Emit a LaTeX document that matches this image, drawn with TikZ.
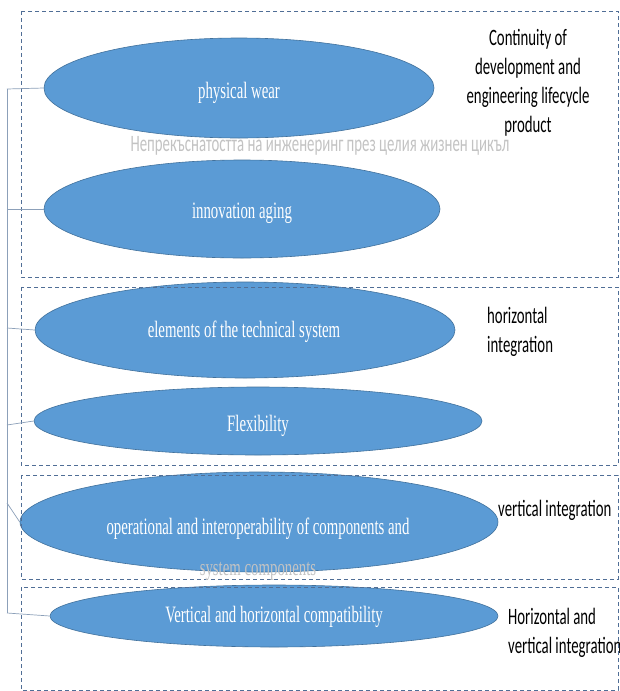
\documentclass[tikz,border=0pt]{standalone}
\usepackage{fontspec}
\setmainfont{Liberation Serif}
\newfontfamily\serifn[FakeStretch=0.63]{Liberation Serif}
\newfontfamily\lblf[FakeStretch=0.63]{Carlito}
\usetikzlibrary{shapes.geometric}
\definecolor{ellfill}{RGB}{91,155,213}
\definecolor{elldraw}{RGB}{65,113,156}
\definecolor{boxc}{RGB}{80,110,150}
\definecolor{conn}{RGB}{140,160,185}
\definecolor{ghost}{RGB}{195,195,195}
\begin{document}
\begin{tikzpicture}[x=1pt,y=-1pt,
  ell/.style={ellipse, fill=ellfill, draw=elldraw, line width=0.6pt, inner sep=0pt},
  etext/.style={text=white, inner sep=0pt, font=\serifn\fontsize{23.5}{27}\selectfont},
  ghosttext/.style={text=ghost, inner sep=0pt},
  lbl/.style={text=black, inner sep=0pt, font=\lblf\fontsize{23.5}{29}\selectfont},
  grp/.style={draw=boxc, dash pattern=on 4pt off 3pt, line width=0.6pt},
  link/.style={draw=conn, line width=0.7pt}]
\useasboundingbox (0,0) rectangle (620,691);
\fill[white] (0,0) rectangle (620,691);

% ellipses
\node[ell, minimum width=390pt, minimum height=100pt] (e1) at (239,88) {};
\node[ell, minimum width=396pt, minimum height=98pt] (e2) at (242,209) {};
\node[ell, minimum width=420pt, minimum height=96pt] (e3) at (245,330) {};
\node[ell, minimum width=448pt, minimum height=68pt] (e4) at (258,421) {};
\node[ell, minimum width=478pt, minimum height=100pt] (e5) at (259,522) {};
\node[ell, minimum width=448pt, minimum height=62pt] (e6) at (274,616) {};

% group boxes
\draw[grp] (21,11) rectangle (618,277);
\draw[grp] (21,287) rectangle (618,465);
\draw[grp] (21,475) rectangle (618,579);
\draw[grp] (21,587) rectangle (618,690);

% ellipse texts
\node[etext] (t1) at (239,93) {physical wear};
\node[etext] (t2) at (242,213) {innovation aging};
\node[etext] (t3) at (244,332) {elements of the technical system};
\node[etext] (t4) at (258,426) {Flexibility};
\node[etext] (t5) at (258,529) {operational and interoperability of components and};
\node[etext, ghosttext] (t5b) at (258,571) {system components};
\node[etext] (t6) at (274,617) {Vertical and horizontal compatibility};

% ghost caption
\node[lbl, ghosttext] (cap) at (320,146) {Непрекъснатостта на инженеринг през целия жизнен цикъл};

% right labels
\node[lbl, align=center] (l1) at (528,83) {Continuity of\\development and\\engineering lifecycle\\product};
\node[lbl, align=left, anchor=west] (l2) at (487,332) {horizontal\\integration};
\node[lbl, anchor=west] (l3) at (498,510) {vertical integration};
\node[lbl, align=left, anchor=west] (l4) at (508,633) {Horizontal and\\vertical integration};

% connectors
\coordinate (c1) at (7,89);
\coordinate (c2) at (7,209);
\coordinate (c3) at (7,328);
\coordinate (c4) at (7,425);
\coordinate (c5) at (7,503);
\coordinate (c6) at (7,613);
\draw[link] (c1) -- (c6);
\draw[link] (c1) -- (e1.west);
\draw[link] (c2) -- (e2.west);
\draw[link] (c3) -- (e3.west);
\draw[link] (c4) -- (e4.west);
\draw[link] (c5) -- (e5.west);
\draw[link] (c6) -- (e6.west);
\end{tikzpicture}
\end{document}
